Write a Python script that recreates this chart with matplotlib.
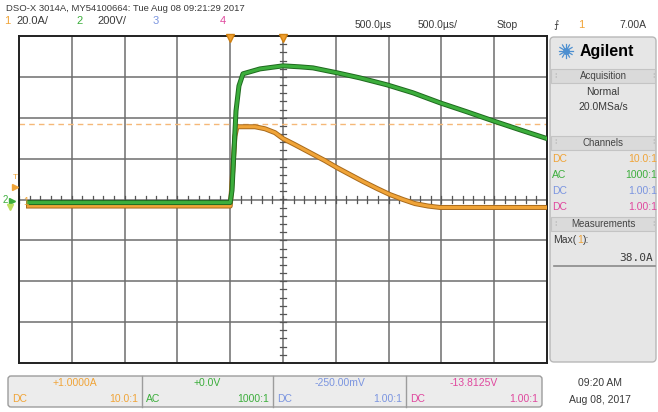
import numpy as np
import matplotlib
matplotlib.use("Agg")
import matplotlib.pyplot as plt
import matplotlib.patches as patches
import matplotlib.patheffects as pe

plt.rcParams['font.family'] = ['Liberation Sans Narrow', 'DejaVu Sans Condensed', 'Liberation Sans', 'DejaVu Sans']

# --- scope settings ---
ch1_scale, ch1_offset = 20.0, 1.0      # A/div, A
ch2_scale, ch2_offset = 200.0, 0.0     # V/div, V
t_div = 500.0                          # us/div
t_pos = 500.0                          # horizontal position, us
meas_max = 38.0                        # Max(1), A
trig_level = 7.0                       # A

# --- channel 1: current (A) vs time (us) ---
ch1_t = [-1910, 0, 10, 25, 45, 64, 235, 330, 424, 500, 614, 756, 898, 1011,
         1134, 1258, 1390, 1513, 1636, 1750, 1873, 1987, 3000]
ch1_i = [-2.2, -2.2, 4, 16, 32, 36.6, 36.6, 35.6, 33.7, 30.8, 27.8, 23.9, 20.0, 16.6,
         13.2, 9.8, 6.4, 3.4, 1.0, -1.0, -2.2, -2.9, -2.9]

# --- channel 2: voltage (V) vs time (us) ---
ch2_t = [-1910, 0, 17, 36, 55, 83, 121, 282, 500, 661, 784, 1011, 1229,
         1485, 1731, 1987, 2242, 2489, 2744, 3000]
ch2_v = [-15, -15, 44, 239, 434, 556, 615, 639, 654, 649, 644, 620, 595,
         561, 522, 473, 429, 385, 341, 298]

C1, C2, C3, C4 = '#f0a438', '#3cae3c', '#7b95e0', '#e0489e'
TXT = '#3a3a3a'

W, H = 658, 412
fig = plt.figure(figsize=(W / 100, H / 100), dpi=100)
fig.patch.set_facecolor('white')

# main graticule
gx0, gy0, gx1, gy1 = 19, 36, 547, 363
ax = fig.add_axes([gx0 / W, 1 - gy1 / H, (gx1 - gx0) / W, (gy1 - gy0) / H])
t_lo = t_pos - 5 * t_div
t_hi = t_pos + 5 * t_div
ax.set_xlim(t_lo, t_hi)
ax.set_ylim(-4, 4)
for xv in np.arange(t_lo + t_div, t_hi, t_div):
    ax.axvline(xv, color='#6e6e6e', lw=1.1, zorder=1)
for yv in range(-3, 4):
    ax.axhline(yv, color='#6e6e6e', lw=1.1, zorder=1)
ax.set_xticks([])
ax.set_yticks([])
for s in ax.spines.values():
    s.set_color('#202020')
    s.set_linewidth(1.4)

# minor ticks on centre axes
for xv in np.arange(t_lo, t_hi, t_div / 5):
    ax.plot([xv, xv], [-0.08, 0.08], color='#555555', lw=0.9, zorder=1)
for yv in np.arange(-4, 4, 0.2):
    ax.plot([t_pos - 28, t_pos + 28], [yv, yv], color='#555555', lw=0.9, zorder=1)

# measurement marker
ax.axhline((meas_max - ch1_offset) / ch1_scale, color='#f5b878', lw=1.0,
           ls=(0, (4, 3)), zorder=2)

d1 = (np.array(ch1_i) - ch1_offset) / ch1_scale
d2 = (np.array(ch2_v) - ch2_offset) / ch2_scale
ax.plot(ch1_t, d1, color=C1, lw=2.2, zorder=3,
        path_effects=[pe.Stroke(linewidth=3.6, foreground='#a86a1c'), pe.Normal()])
ax.plot(ch2_t, d2, color=C2, lw=2.2, zorder=4,
        path_effects=[pe.Stroke(linewidth=3.6, foreground='#1f6a1f'), pe.Normal()])

# overlay in pixel coords for the instrument chrome
ov = fig.add_axes([0, 0, 1, 1], zorder=5)
ov.set_xlim(0, W)
ov.set_ylim(H, 0)
ov.axis('off')
ov.patch.set_alpha(0)


def t(x, y, s, c=TXT, size=7, ha='left', **kw):
    ov.text(x, y, s, color=c, fontsize=size, ha=ha, va='center', **kw)


# header
t(6, 8, 'DSO-X 3014A, MY54100664: Tue Aug 08 09:21:29 2017', size=6.8)
t(4, 21, '1', C1, 8)
t(16, 21, '20.0A/', size=8)
t(76, 21, '2', C2, 8)
t(97, 21, '200V/', size=8)
t(153, 21, '3', C3, 8)
t(220, 21, '4', C4, 8)
t(355, 25, '500.0µs', size=7.5)
t(418, 25, '500.0µs/', size=7.5)
t(497, 25, 'Stop', size=7.5)
t(553, 25, '⨍', size=7.5)
t(578, 25, '1', C1, 8)
t(646, 25, '7.00A', size=7.5, ha='right')

# top markers
ov.plot([230.2, 283], [37.5, 37.5], ls='none', marker='v', ms=6, color='#f0a030',
        markeredgecolor='#d08010')

# left markers
y_trig = gy0 + (4 - (trig_level - ch1_offset) / ch1_scale) * (gy1 - gy0) / 8
y_g1 = gy0 + (4 - (0 - ch1_offset) / ch1_scale) * (gy1 - gy0) / 8
t(13, y_trig - 10, 'T', C1, 6)
ov.plot([15], [y_trig], marker='>', ms=4, color=C1, ls='none')
t(3, 200, '2', C2, 7)
ov.plot([12], [201], marker='>', ms=4, color=C2, ls='none')
ov.plot([9.5], [207], marker='v', ms=5, color='#bde060', ls='none')
t(23, y_g1, '1', C1, 7)

# right side panel
panel = patches.FancyBboxPatch((550, 37), 106, 325, boxstyle='round,pad=0,rounding_size=4',
                               facecolor='#e6e6e6', edgecolor='#b8b8b8', lw=1.0)
ov.add_patch(panel)
# Agilent spark
cx, cy = 566, 51
for a in np.linspace(0, np.pi, 6, endpoint=False):
    ov.plot([cx - 7 * np.cos(a), cx + 7 * np.cos(a)], [cy - 7 * np.sin(a), cy + 7 * np.sin(a)],
            color='#4d8fd0', lw=0.9)
ov.plot([cx], [cy], marker='o', ms=4, color='#4d8fd0')
t(580, 51, 'Agilent', 'black', 11.5, fontweight='bold')


def hdr(y, s):
    ov.add_patch(patches.Rectangle((551, y - 7), 104, 14, facecolor='#dadada',
                                   edgecolor='#c4c4c4', lw=0.8))
    t(603, y, s, '#444444', 7, ha='center')
    t(554, y, '⁞', '#aaaaaa', 6)
    t(652, y, '⁞', '#aaaaaa', 6)


hdr(76, 'Acquisition')
t(603, 92, 'Normal', TXT, 7.5, ha='center')
t(603, 107, '20.0MSa/s', TXT, 7.5, ha='center')
hdr(143, 'Channels')
rows = [('DC', '10.0:1', C1), ('AC', '1000:1', C2), ('DC', '1.00:1', C3), ('DC', '1.00:1', C4)]
for k, (cpl, prb, c) in enumerate(rows):
    yy = 159 + 16 * k
    t(552, yy, cpl, c, 7.5)
    t(657, yy, prb, c, 7.5, ha='right')
hdr(224, 'Measurements')
t(553, 240, 'Max(', TXT, 7.5)
t(577, 240, '1', C1, 7.5)
t(583, 240, '):', TXT, 7.5)
t(653, 258, '38.0A', TXT, 8, ha='right', family='DejaVu Sans Mono')
ov.plot([554, 655], [266, 266], color='#8a8a8a', lw=1.2)

# bottom channel boxes
boxes = [(8, 142, '+1.0000A', 'DC', '10.0:1', C1),
         (142, 273, '+0.0V', 'AC', '1000:1', C2),
         (273, 406, '-250.00mV', 'DC', '1.00:1', C3),
         (406, 542, '-13.8125V', 'DC', '1.00:1', C4)]
ov.add_patch(patches.FancyBboxPatch((8, 376), 534, 31, boxstyle='round,pad=0,rounding_size=3',
                                    facecolor='#ececec', edgecolor='#9c9c9c', lw=1.0))
for x0, x1, off, cpl, prb, c in boxes:
    if x0 > 8:
        ov.plot([x0, x0], [376, 407], color='#9c9c9c', lw=1.0)
    t((x0 + x1) / 2, 383, off, c, 7.5, ha='center')
    t(x0 + 4, 399, cpl, c, 7.5)
    t(x1 - 4, 399, prb, c, 7.5, ha='right')
t(600, 383, '09:20 AM', TXT, 7.5, ha='center')
t(600, 400, 'Aug 08, 2017', TXT, 7.5, ha='center')

fig.savefig('out.png', dpi=100)
